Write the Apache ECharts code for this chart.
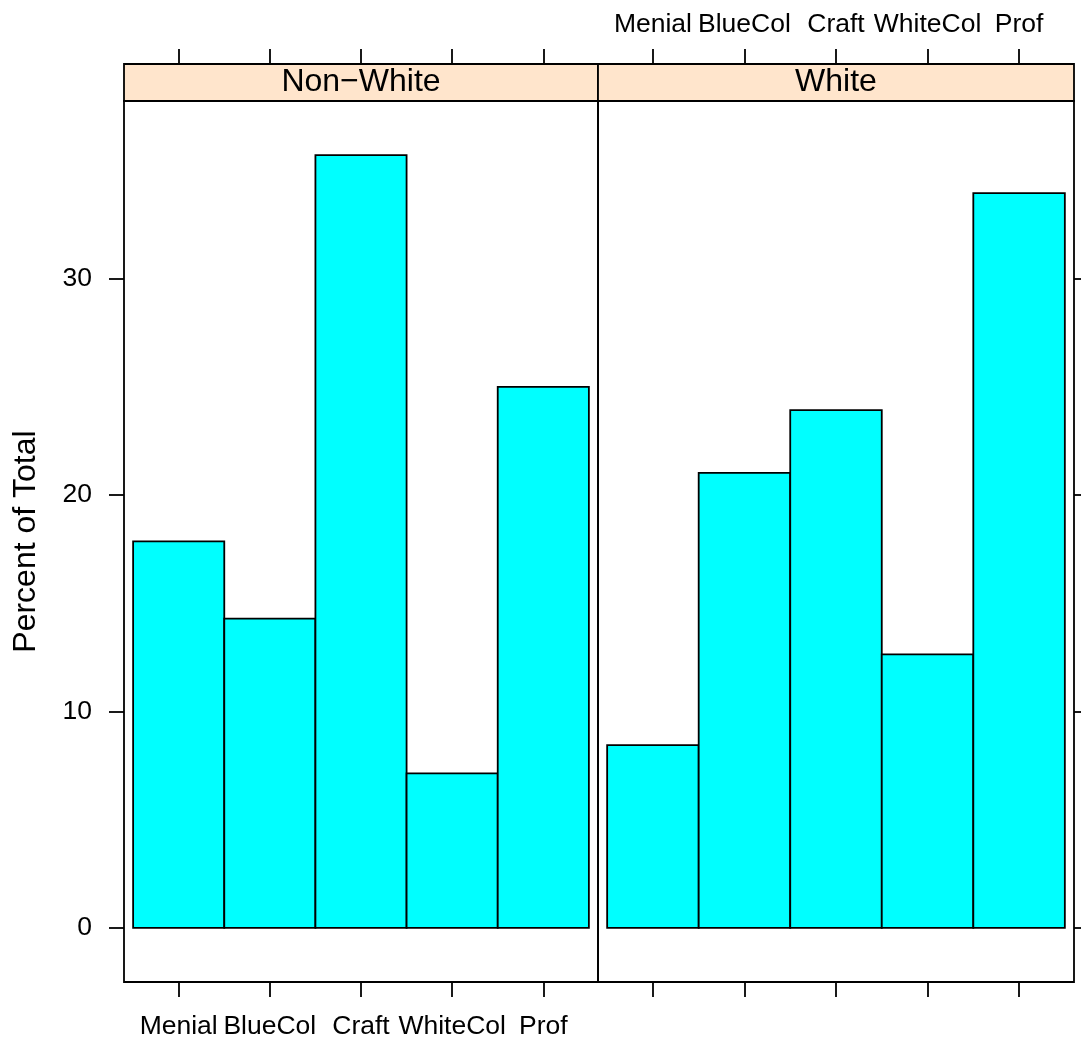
<!DOCTYPE html>
<html>
<head>
<meta charset="utf-8">
<title>Occupation by Race</title>
<script src="https://cdn.jsdelivr.net/npm/echarts@6/dist/echarts.min.js"></script>
<style>
  html, body { margin: 0; padding: 0; background: #fff; }
  #chart { width: 1081px; height: 1038px; }
</style>
</head>
<body>
<div id="chart"></div>
<script>
// Occupation categories (x) and the two race panels
const categories = ['Menial', 'BlueCol', 'Craft', 'WhiteCol', 'Prof'];
const panelNames = ['Non\u2212White', 'White'];

// Percent of total within each panel
const nonWhitePct = [17.86, 14.29, 35.71, 7.14, 25.00];
const whitePct = [8.45, 21.03, 23.93, 12.64, 33.95];

// Y ticks
const yTicks = [0, 10, 20, 30];

// ---- layout ----
const FONT = '"Liberation Sans", Arial, Helvetica, sans-serif';
const PANEL_TOP = 101;
const PANEL_BOTTOM = 982;
const STRIP_H = 37;
const P1_LEFT = 124;
const P1_W = 474;
const P2_LEFT = P1_LEFT + P1_W;
const P2_W = 476;
const TICK_LEN = 15;
const LINE_W = 1.8;
const TICK_FONT = 26.5;
const BIG_FONT = 32;

// x range: bars span 0.5..5.5, padded by 4%
const xPad = 0.04 * categories.length;
const xMin = 0.5 - xPad / 2;
const xMax = categories.length + 0.5 + xPad / 2;
// y range: 0..max padded by 7%
const yTop = Math.max(...nonWhitePct, ...whitePct);
const yPad = 0.07 * yTop;
const yMin = -yPad;
const yMax = yTop + yPad;

const catPos = categories.map((c, i) => i + 1);

function xAxisDef(gridIndex, position, withLabels) {
  return {
    gridIndex: gridIndex,
    type: 'value',
    position: position,
    offset: position === 'top' ? STRIP_H : 0,
    min: xMin,
    max: xMax,
    axisLine: { show: false, onZero: false },
    splitLine: { show: false },
    axisTick: {
      show: true, inside: false, length: TICK_LEN,
      customValues: catPos,
      lineStyle: { color: '#000', width: LINE_W }
    },
    axisLabel: {
      show: withLabels,
      customValues: catPos,
      margin: position === 'top' ? 26 : 31,
      formatter: v => categories[Math.round(v) - 1] || '',
      fontFamily: FONT, fontSize: TICK_FONT, color: '#000'
    }
  };
}

function yAxisDef(gridIndex, position, withLabels) {
  const ax = {
    gridIndex: gridIndex,
    type: 'value',
    position: position,
    min: yMin,
    max: yMax,
    axisLine: { show: false, onZero: false },
    splitLine: { show: false },
    axisTick: {
      show: true, inside: false, length: TICK_LEN,
      customValues: yTicks,
      lineStyle: { color: '#000', width: LINE_W }
    },
    axisLabel: {
      show: withLabels,
      customValues: yTicks,
      margin: 32,
      fontFamily: FONT, fontSize: TICK_FONT, color: '#000'
    }
  };
  if (withLabels) {
    ax.name = 'Percent of Total';
    ax.nameLocation = 'middle';
    ax.nameGap = 82;
    ax.nameTextStyle = { fontFamily: FONT, fontSize: BIG_FONT, color: '#000' };
  }
  return ax;
}

// each histogram bar covers one category cell, from 0 up to its percentage
function renderBar(params, api) {
  const x = api.value(0);
  const y = api.value(1);
  const p0 = api.coord([x - 0.5, y]);
  const p1 = api.coord([x + 0.5, 0]);
  return {
    type: 'rect',
    shape: { x: p0[0], y: p0[1], width: p1[0] - p0[0], height: p1[1] - p0[1] },
    style: { fill: '#00FFFF', stroke: '#000', lineWidth: LINE_W }
  };
}

function stripGraphics(left, width, label) {
  return [
    {
      type: 'rect',
      shape: { x: left, y: PANEL_TOP - STRIP_H, width: width, height: STRIP_H },
      style: { fill: '#FFE5CC', stroke: '#000', lineWidth: LINE_W },
      z: 10
    },
    {
      type: 'text',
      x: left + width / 2,
      y: PANEL_TOP - STRIP_H / 2,
      style: {
        text: label, fill: '#000', font: BIG_FONT + 'px ' + FONT,
        align: 'center', verticalAlign: 'middle'
      },
      z: 11
    }
  ];
}

const chart = echarts.init(document.getElementById('chart'), null, { renderer: 'canvas' });

chart.setOption({
  animation: false,
  backgroundColor: '#fff',
  grid: [
    { left: P1_LEFT, top: PANEL_TOP, width: P1_W, height: PANEL_BOTTOM - PANEL_TOP,
      containLabel: false, outerBoundsMode: 'none',
      show: true, borderColor: '#000', borderWidth: LINE_W, backgroundColor: 'transparent' },
    { left: P2_LEFT, top: PANEL_TOP, width: P2_W, height: PANEL_BOTTOM - PANEL_TOP,
      containLabel: false, outerBoundsMode: 'none',
      show: true, borderColor: '#000', borderWidth: LINE_W, backgroundColor: 'transparent' }
  ],
  xAxis: [
    xAxisDef(0, 'bottom', true),
    xAxisDef(0, 'top', false),
    xAxisDef(1, 'bottom', false),
    xAxisDef(1, 'top', true)
  ],
  yAxis: [
    yAxisDef(0, 'left', true),
    yAxisDef(1, 'right', false)
  ],
  series: [
    {
      name: panelNames[0], type: 'custom', xAxisIndex: 0, yAxisIndex: 0,
      renderItem: renderBar, clip: false,
      data: nonWhitePct.map((v, i) => [catPos[i], v])
    },
    {
      name: panelNames[1], type: 'custom', xAxisIndex: 2, yAxisIndex: 1,
      renderItem: renderBar, clip: false,
      data: whitePct.map((v, i) => [catPos[i], v])
    }
  ],
  graphic: [
    ...stripGraphics(P1_LEFT, P1_W, panelNames[0]),
    ...stripGraphics(P2_LEFT, P2_W, panelNames[1])
  ]
});
</script>
</body>
</html>
